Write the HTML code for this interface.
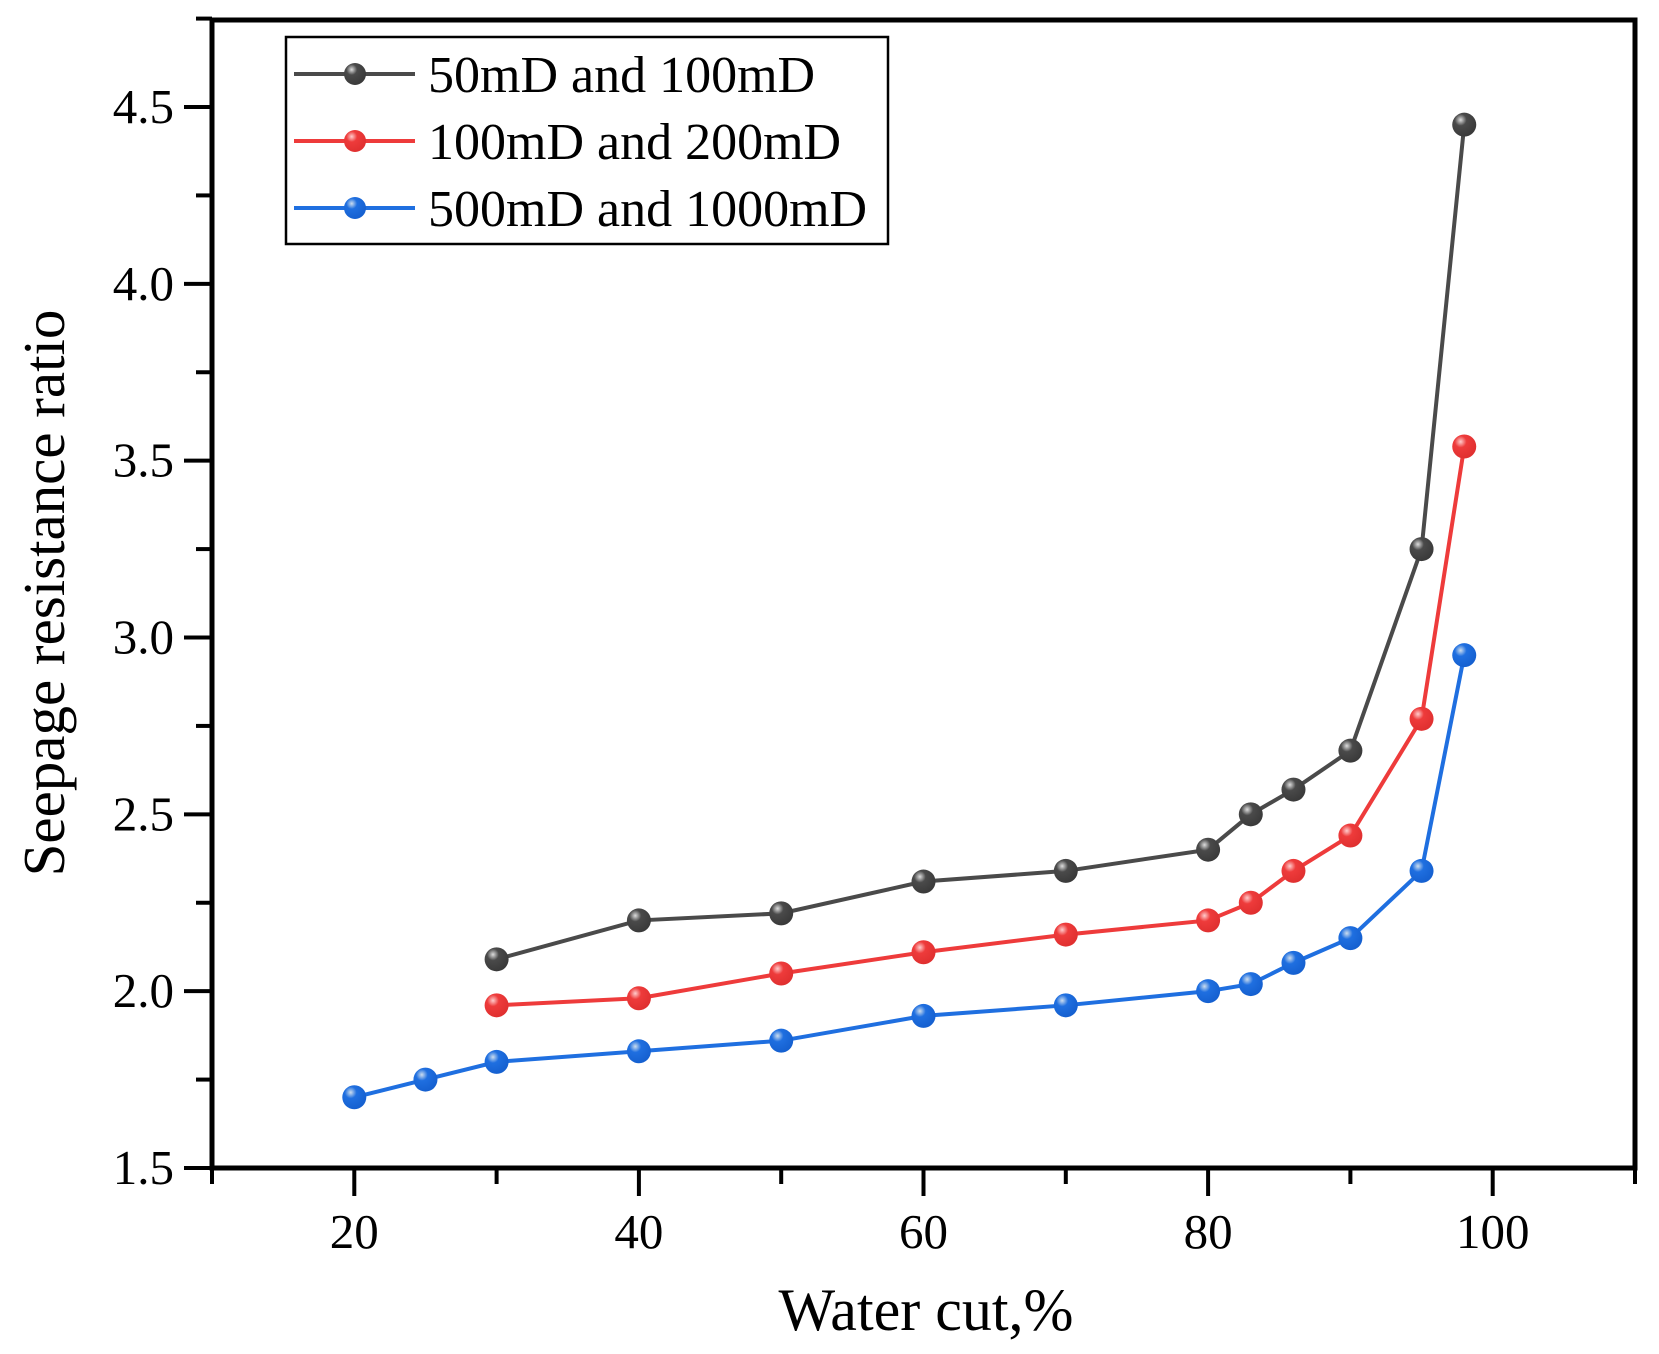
<!DOCTYPE html>
<html><head><meta charset="utf-8"><style>
html,body{margin:0;padding:0;background:#fff;}
svg text{font-family:"Liberation Serif",serif;fill:#000;}
</style></head><body>
<svg id="chart" width="1659" height="1349" viewBox="0 0 1659 1349" xmlns="http://www.w3.org/2000/svg">
<defs>
<radialGradient id="gk" cx="0.35" cy="0.3" r="0.7"><stop offset="0" stop-color="#ddd"/><stop offset="0.35" stop-color="#4a4a4a"/><stop offset="1" stop-color="#3a3a3a"/></radialGradient>
<radialGradient id="gr" cx="0.35" cy="0.3" r="0.7"><stop offset="0" stop-color="#fcc"/><stop offset="0.35" stop-color="#ee3b3b"/><stop offset="1" stop-color="#e03030"/></radialGradient>
<radialGradient id="gb" cx="0.35" cy="0.3" r="0.7"><stop offset="0" stop-color="#cde"/><stop offset="0.35" stop-color="#1f6fe0"/><stop offset="1" stop-color="#1560d0"/></radialGradient>
</defs>
<g id="plot"></g>
</svg>
<script>
const xBlack=[30,40,50,60,70,80,83,86,90,95,98];
const yBlack=[2.09,2.20,2.22,2.31,2.34,2.40,2.50,2.57,2.68,3.25,4.45];
const xRed=[30,40,50,60,70,80,83,86,90,95,98];
const yRed=[1.96,1.98,2.05,2.11,2.16,2.20,2.25,2.34,2.44,2.77,3.54];
const xBlue=[20,25,30,40,50,60,70,80,83,86,90,95,98];
const yBlue=[1.70,1.75,1.80,1.83,1.86,1.93,1.96,2.00,2.02,2.08,2.15,2.34,2.95];
const xTicks=[20,40,60,80,100];
const yTicks=["1.5","2.0","2.5","3.0","3.5","4.0","4.5"];
const seriesNames=["50mD and 100mD","100mD and 200mD","500mD and 1000mD"];

const L=212,R=1635,T=20,B=1168;
const X0=10,X1=110,Y0=1.5,Y1=4.746;
const sx=v=>L+(v-X0)/(X1-X0)*(R-L);
const sy=v=>B-(v-Y0)/(Y1-Y0)*(B-T);
const NS="http://www.w3.org/2000/svg";
const g=document.getElementById('plot');
function mk(tag,attrs,parent){const e=document.createElementNS(NS,tag);for(const k in attrs)e.setAttribute(k,attrs[k]);(parent||g).appendChild(e);return e;}

let fr=mk('rect',{x:L,y:T,width:R-L,height:B-T,fill:'none',stroke:'#000','stroke-width':5});



for(let v=10;v<=110;v+=10){
  const major=xTicks.includes(v);
  let t=mk('line',{x1:sx(v),x2:sx(v),y1:B,y2:B+(major?28:16),stroke:'#000','stroke-width':4});
  
  
}
xTicks.forEach(v=>{
  let t=mk('text',{x:sx(v),y:B+80,'font-size':49,'text-anchor':'middle'});t.textContent=v;
  
  
});
for(let v=1.5;v<=4.76;v+=0.25){
  const major=Math.abs(v*2-Math.round(v*2))<1e-6;
  let t=mk('line',{x1:L-(major?28:16),x2:L,y1:sy(v),y2:sy(v),stroke:'#000','stroke-width':4});
  
  
}
yTicks.forEach(s=>{
  let t=mk('text',{x:L-38,y:sy(parseFloat(s))+16,'font-size':49,'text-anchor':'end'});t.textContent=s;
  
  
});
let xt=mk('text',{x:926,y:1330,'font-size':60,'text-anchor':'middle'});xt.textContent='Water cut,%';


let yt=mk('text',{x:0,y:0,'font-size':59,'text-anchor':'middle',transform:'translate(64,593) rotate(-90)'});yt.textContent='Seepage resistance ratio';



const series=[[xBlack,yBlack,'#4a4a4a','gk','black'],[xRed,yRed,'#ee3b3b','gr','red'],[xBlue,yBlue,'#1f6fe0','gb','blue']];
series.forEach(([xs,ys,c,gid,nm])=>{
  let p=mk('polyline',{points:xs.map((x,i)=>sx(x)+','+sy(ys[i])).join(' '),fill:'none',stroke:c,'stroke-width':4});
  
  
  xs.forEach((x,i)=>{
    let m=mk('circle',{cx:sx(x),cy:sy(ys[i]),r:12,fill:'url(#'+gid+')'});
    
    
  });
});

let lb=mk('rect',{x:286,y:37,width:602,height:207,fill:'#fff',stroke:'#000','stroke-width':2.5});


const rows=[74,141,208];
series.forEach(([xs,ys,c,gid,nm],i)=>{
  let l=mk('line',{x1:294,x2:415,y1:rows[i],y2:rows[i],stroke:c,'stroke-width':4});
  
  
  let m=mk('circle',{cx:355,cy:rows[i],r:11,fill:'url(#'+gid+')'});
  
  
  let t=mk('text',{x:428,y:rows[i]+18,'font-size':52});t.textContent=seriesNames[i];
  
  
});
</script>
</body></html>
